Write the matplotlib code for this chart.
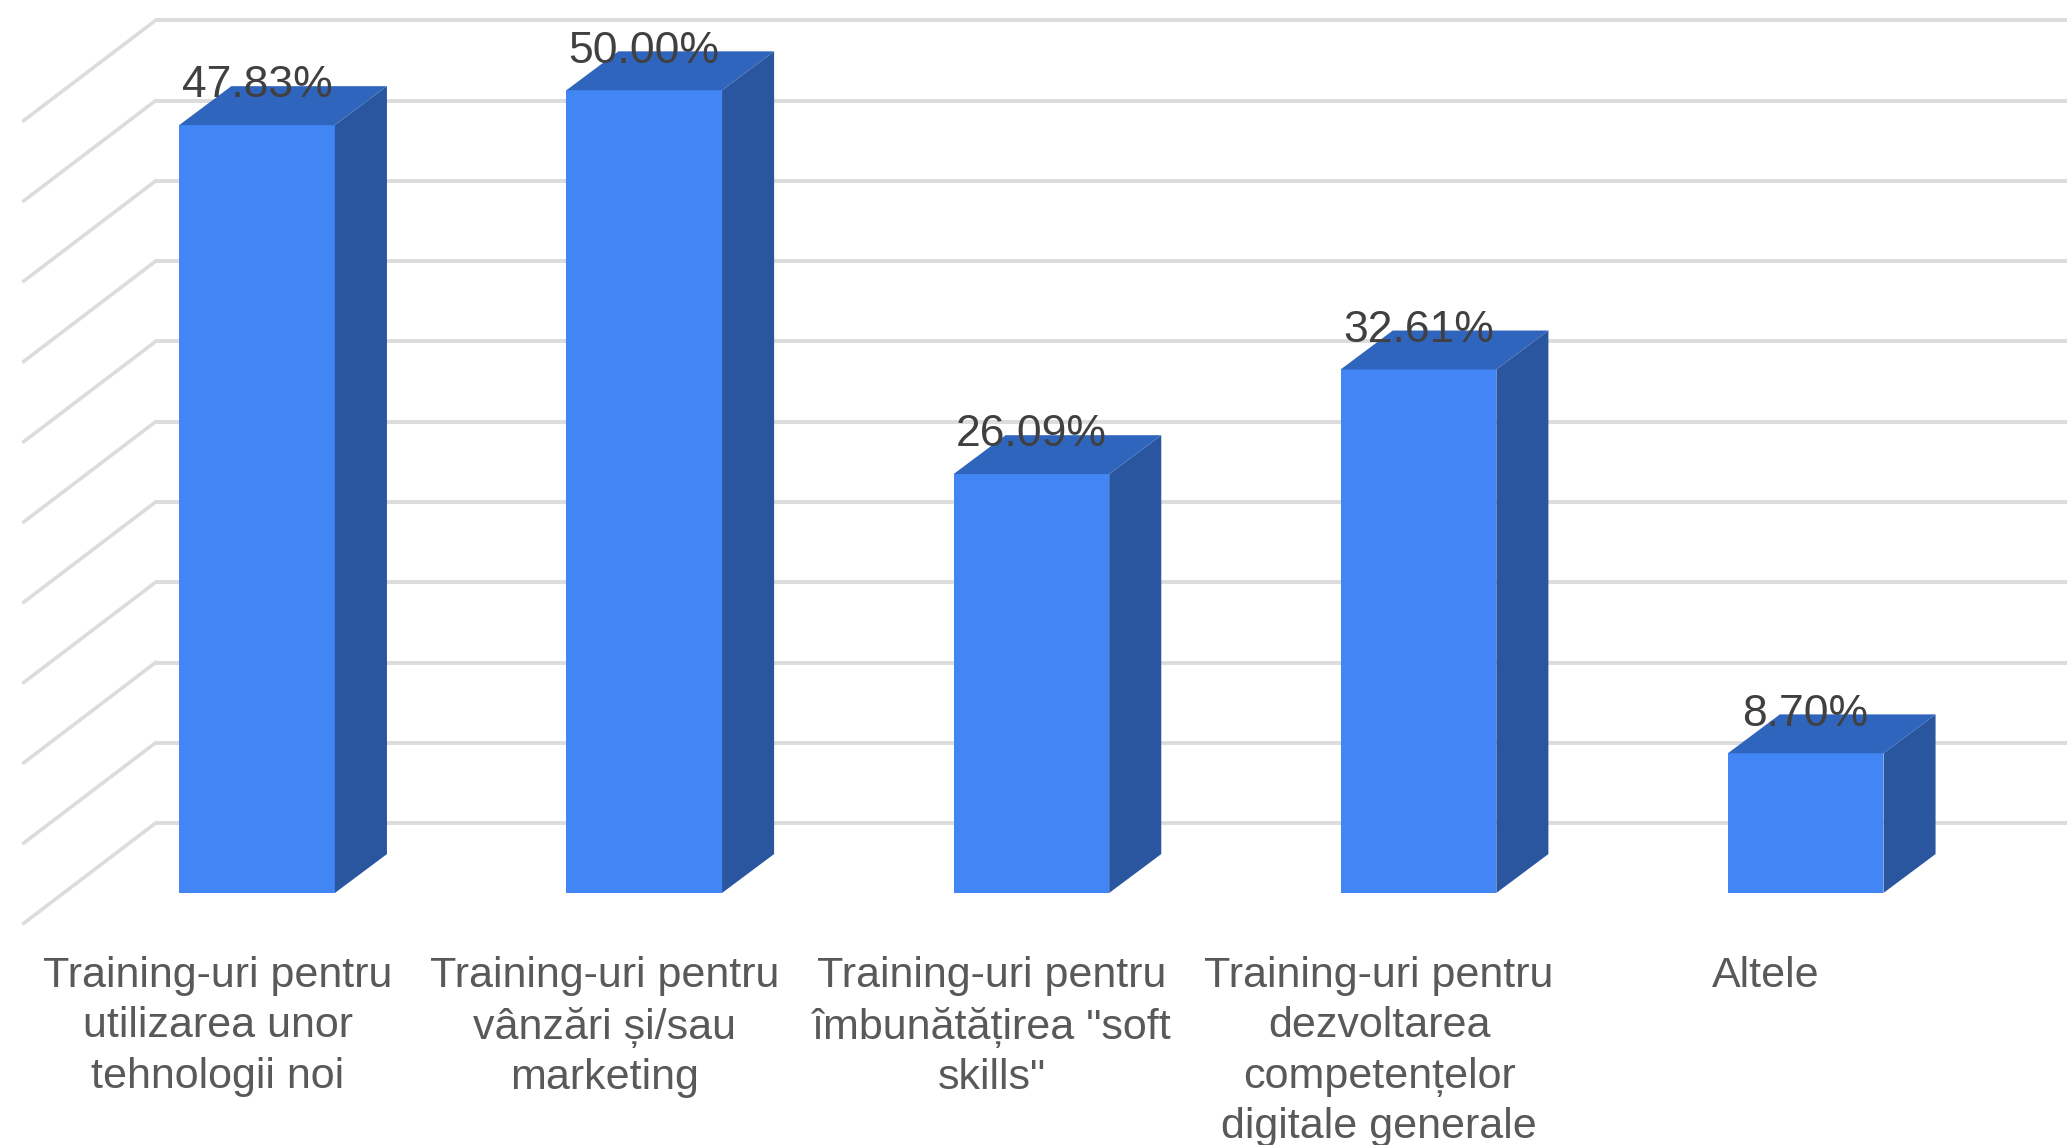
import matplotlib
matplotlib.use("Agg")
import matplotlib.pyplot as plt
import numpy as np
from matplotlib.patches import Polygon

plt.rcParams['font.family'] = ['Liberation Sans', 'DejaVu Sans']

categories = ['Training-uri pentru\nutilizarea unor\ntehnologii noi',
              'Training-uri pentru\nvânzări și/sau\nmarketing',
              'Training-uri pentru\nîmbunătățirea "soft\nskills"',
              'Training-uri pentru\ndezvoltarea\ncompetențelor\ndigitale generale',
              'Altele']
values = [47.83, 50.00, 26.09, 32.61, 8.70]
labels = ['47.83%', '50.00%', '26.09%', '32.61%', '8.70%']
grid_ticks = np.arange(0, 55, 5)

fig = plt.figure(figsize=(20.67, 11.45), dpi=100)
ax = fig.add_axes([0, 0, 1, 1])
ax.set_xlim(-0.664, 4.675)
ax.set_ylim(-15.70, 55.62)
ax.patch.set_visible(False)
for s in ax.spines.values():
    s.set_visible(False)
ax.set_yticks([])

x = np.arange(len(values))
width = 0.402
dx, dy = 39.5 / 293.7, 29.5 / 12.18          # bar depth
wx0, wx1 = -177 / 293.7, -77 / 293.7         # side wall x range
wy0, wy1 = -23 / 12.18, 53 / 12.18           # side wall y shift
GRID = '#dcdcdc'
for g in grid_ticks:
    ax.plot([wx1, ax.get_xlim()[1]], [g + wy1, g + wy1], color=GRID, lw=2.8, zorder=1, solid_capstyle='butt')
    ax.plot([wx0, wx1], [g + wy0, g + wy1], color=GRID, lw=2.6, zorder=1)

ax.bar(x, values, width=width, color='#4285f4', zorder=3)
for xi, v, t in zip(x, values, labels):
    l, r = xi - width / 2, xi + width / 2
    ax.add_patch(Polygon([(r, 0), (r + dx, dy), (r + dx, v + dy), (r, v)], color='#2a56a0', lw=0, zorder=3))
    ax.add_patch(Polygon([(l, v), (r, v), (r + dx, v + dy), (l + dx, v + dy)], color='#3065bd', lw=0, zorder=3))
    ax.text(xi, v + 1.72, t, ha='center', va='baseline', fontsize=32, color='#404040', zorder=4)

ax.set_xticks(x - 0.102)
ax.set_xticklabels(categories, fontsize=31, color='#595959', linespacing=1.33, va='top', ha='center')
ax.tick_params(axis='x', direction='in', length=0, pad=-136)
fig.savefig('out.png', dpi=100)
